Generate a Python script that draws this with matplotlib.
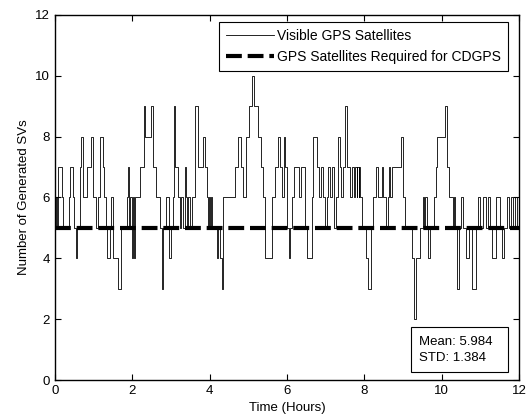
import matplotlib
matplotlib.use('Agg')
import matplotlib.pyplot as plt
from matplotlib.patches import Rectangle

plt.rcParams['font.family'] = ['Liberation Sans', 'DejaVu Sans']

# times (hours) where the number of visible satellites changes
t_hours = [0.00, 0.03, 0.06, 0.09, 0.17, 0.21, 0.36, 0.40, 0.46, 0.50, 0.55, 0.57,
           0.64, 0.67, 0.72, 0.82, 0.92, 0.99, 1.06, 1.12, 1.17, 1.24, 1.27, 1.31,
           1.35, 1.43, 1.46, 1.49, 1.63, 1.70, 1.86, 1.89,
           1.92, 1.95, 1.98, 2.01, 2.05, 2.07, 2.20, 2.29, 2.34, 2.48, 2.53, 2.62,
           2.71, 2.76, 2.80, 2.88, 2.96, 2.99, 3.05, 3.08, 3.11, 3.17, 3.22, 3.26,
           3.30, 3.36, 3.39, 3.42, 3.45, 3.50, 3.55, 3.62, 3.70, 3.82,
           3.88, 3.92, 3.95, 3.98, 4.01, 4.04, 4.07, 4.18, 4.22, 4.28, 4.31, 4.35,
           4.65, 4.73, 4.82, 4.87, 4.93, 5.03, 5.09, 5.14, 5.26, 5.34, 5.39, 5.44,
           5.60, 5.69, 5.78,
           5.82, 5.87, 5.91, 5.96, 6.00, 6.05, 6.08, 6.13, 6.18, 6.30, 6.36, 6.47,
           6.51, 6.64, 6.68, 6.77, 6.84, 6.88, 6.93, 6.98, 7.03, 7.07, 7.12, 7.17,
           7.21, 7.28, 7.31, 7.36, 7.40, 7.44, 7.50, 7.56, 7.63, 7.68,
           7.74, 7.77, 7.80, 7.82, 7.85, 7.87, 7.90, 7.95, 8.05, 8.10, 8.17, 8.22,
           8.31, 8.35, 8.46, 8.49, 8.55, 8.60, 8.63, 8.66, 8.72, 8.95, 9.00, 9.06,
           9.23, 9.29, 9.34, 9.44, 9.51, 9.55, 9.58, 9.62, 9.66, 9.70,
           9.80, 9.85, 9.89, 10.09, 10.13, 10.19, 10.29, 10.32, 10.35, 10.40, 10.44,
           10.50, 10.55, 10.63, 10.70, 10.78, 10.88, 10.95, 11.00, 11.07, 11.14,
           11.20, 11.24, 11.30, 11.40, 11.50, 11.55, 11.62, 11.70, 11.75, 11.80,
           11.85, 11.90, 11.95]

n_visible = [5, 6, 5, 7, 6, 5, 6, 7, 6, 5, 4, 5,
             7, 8, 6, 7, 8, 6, 5, 6, 8, 7, 6, 5,
             4, 5, 6, 4, 3, 5, 6, 7,
             5, 6, 4, 6, 4, 6, 7, 9, 8, 9, 7, 6,
             5, 3, 5, 6, 4, 5, 6, 9, 7, 6, 5, 6,
             5, 7, 6, 5, 6, 5, 6, 9, 7, 8,
             7, 6, 5, 6, 5, 6, 5, 4, 5, 4, 3, 6,
             7, 8, 7, 6, 8, 9, 10, 9, 8, 7, 6, 4,
             6, 7, 8,
             7, 6, 8, 7, 5, 4, 5, 6, 7, 6, 7, 5,
             4, 6, 8, 7, 6, 7, 6, 5, 6, 7, 6, 7,
             5, 6, 8, 7, 6, 7, 9, 7, 6, 7,
             6, 7, 6, 7, 6, 7, 6, 5, 4, 3, 5, 6,
             7, 6, 7, 6, 5, 6, 7, 6, 7, 8, 6, 5,
             4, 2, 4, 5, 6, 5, 6, 5, 4, 5,
             6, 7, 8, 9, 7, 6, 5, 6, 5, 3, 5,
             6, 5, 4, 5, 3, 5, 6, 5, 6, 5,
             6, 5, 4, 6, 5, 4, 5, 6, 5, 6,
             5, 6, 5]

n_required = 5
t_end = 12.0
stats_text = 'Mean: 5.984\nSTD: 1.384'

fig = plt.figure(figsize=(5.29, 4.16), dpi=100)
ax = fig.add_axes([0.104, 0.0865, 0.877, 0.878])

ax.step(t_hours + [t_end], n_visible + [n_visible[-1]], where='post',
        color='k', lw=0.6, label='Visible GPS Satellites')
ax.plot([0, t_end], [n_required, n_required], color='k', lw=3,
        linestyle=(0, (3.8, 1.4)), label='GPS Satellites Required for CDGPS')

ax.set_xlim(0, 12)
ax.set_ylim(0, 12)
ax.set_xticks(range(0, 13, 2))
ax.set_yticks(range(0, 13, 2))
ax.tick_params(direction='in', top=True, right=True, labelsize=9.5, length=4, width=0.8)
for s in ax.spines.values():
    s.set_linewidth(1.0)

ax.set_xlabel('Time (Hours)', fontsize=9.5, labelpad=4)
ax.set_ylabel('Number of Generated SVs', fontsize=9.5)

leg = ax.legend(loc='upper right', bbox_to_anchor=(0.976, 0.981), borderaxespad=0,
                fancybox=False, edgecolor='k', framealpha=1, fontsize=10,
                handlelength=3.45, handletextpad=0.25, borderpad=0.5)
leg.get_frame().set_linewidth(0.8)

# stats box
ax.add_patch(Rectangle((0.767, 0.022), 0.209, 0.123, transform=ax.transAxes,
                       fc='w', ec='k', lw=0.8, zorder=5))
ax.text(0.784, 0.083, stats_text, transform=ax.transAxes, fontsize=9.5,
        va='center', ha='left', linespacing=1.4, zorder=6)

fig.savefig('out.png', dpi=100)
